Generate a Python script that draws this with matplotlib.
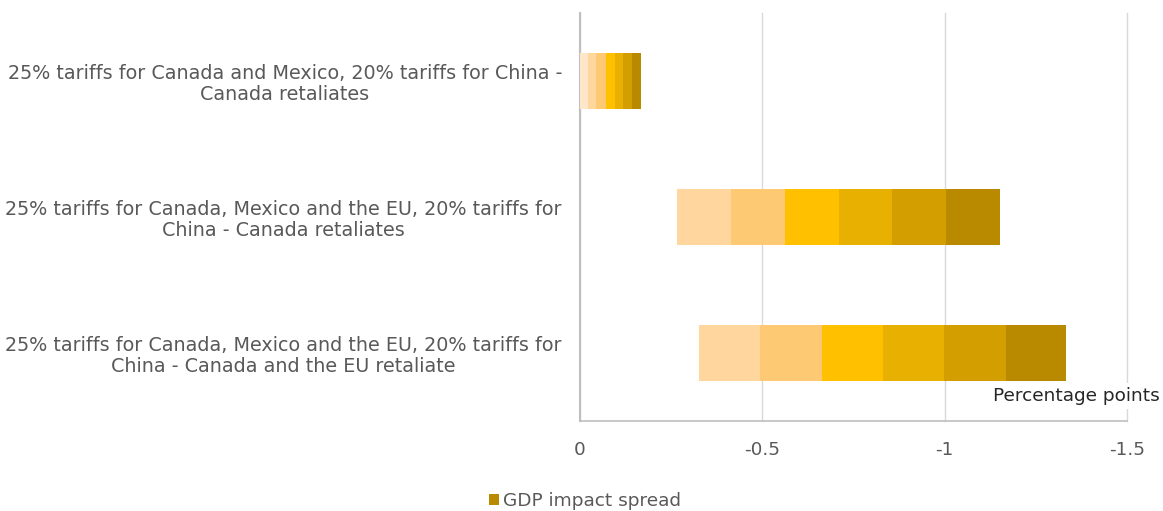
import matplotlib
matplotlib.use("Agg")
import matplotlib.pyplot as plt
from matplotlib.patches import Patch
import numpy as np

plt.rcParams["font.family"] = ["DejaVu Sans"]

# Scenarios (top to bottom)
scenarios = [
    "25% tariffs for Canada and Mexico, 20% tariffs for China -\nCanada retaliates",
    "25% tariffs for Canada, Mexico and the EU, 20% tariffs for\nChina - Canada retaliates",
    "25% tariffs for Canada, Mexico and the EU, 20% tariffs for\nChina - Canada and the EU retaliate",
]

# Smallest GDP loss of each range (percentage points, magnitude)
range_start = [0.0, 0.266, 0.326]

# Width of each band of the GDP impact spread, lightest to darkest
band_0 = [0.023, 0.0, 0.0]
band_1 = [0.022, 0.147, 0.169]
band_2 = [0.025, 0.148, 0.169]
band_3 = [0.025, 0.149, 0.166]
band_4 = [0.024, 0.147, 0.168]
band_5 = [0.024, 0.148, 0.170]
band_6 = [0.025, 0.148, 0.166]

bands = [band_0, band_1, band_2, band_3, band_4, band_5, band_6]
band_colors = ["#FEE6C8", "#FED69E", "#FDC972", "#FFC000", "#E8B000", "#D29E00", "#B98A00"]

xticks = [0, -0.5, -1, -1.5]
xtick_labels = ["0", "-0.5", "-1", "-1.5"]

text_gray = "#595959"

fig = plt.figure(figsize=(11.63, 5.11), dpi=100)
ax = fig.add_axes([0.4987, 0.176, 0.4703, 0.7986])

y = np.arange(len(scenarios))
cum = np.array(range_start, dtype=float)
for vals, col in zip(bands, band_colors):
    vals = np.array(vals, dtype=float)
    ax.barh(y, -vals, left=-cum, height=0.41, color=col, edgecolor="none", zorder=3)
    cum = cum + vals

ax.set_xlim(0, -1.5)
ax.set_ylim(2.5, -0.5)

ax.set_xticks(xticks)
ax.set_xticklabels(xtick_labels, fontsize=13.3, color=text_gray)
ax.set_yticks(y)
ax.set_yticklabels(scenarios, fontsize=13.8, color=text_gray,
                   multialignment="center", linespacing=1.16)
ax.tick_params(axis="x", length=0, pad=14)
ax.tick_params(axis="y", length=0, pad=13)

ax.grid(axis="x", color="#D9D9D9", linewidth=1, zorder=0)
ax.set_axisbelow(True)
for gl in ax.get_xgridlines():
    gl.set_clip_on(False)
for side in ("top", "right"):
    ax.spines[side].set_visible(False)
ax.spines["left"].set_color("#BFBFBF")
ax.spines["left"].set_linewidth(1.5)
ax.spines["bottom"].set_color("#BFBFBF")
ax.spines["bottom"].set_linewidth(1.2)

ax.text(0.9974, 0.225, "Percentage points", transform=fig.transFigure,
        ha="right", va="center", fontsize=13.3, color="#262626",
        bbox=dict(facecolor="white", edgecolor="none", pad=3), zorder=5)

fig.legend(handles=[Patch(facecolor="#B98A00", edgecolor="none")],
           labels=["GDP impact spread"], loc="center", bbox_to_anchor=(0.503, 0.02),
           frameon=False, handlelength=0.55, handleheight=0.55, handletextpad=0.25,
           prop={"size": 13.3}, labelcolor=text_gray)

fig.savefig("out.png", dpi=100)
